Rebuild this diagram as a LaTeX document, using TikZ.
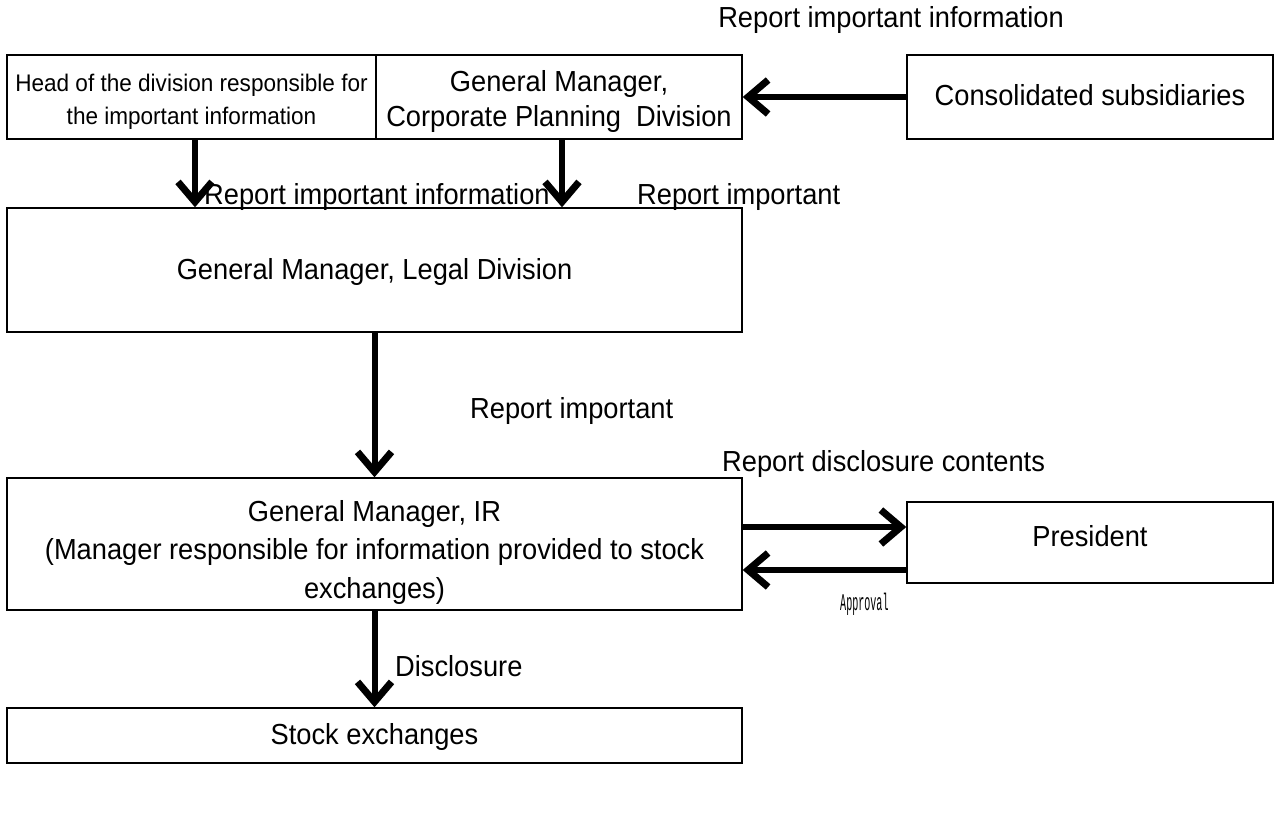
\documentclass[tikz,border=0pt]{standalone}
\usepackage{fontspec}
\setmainfont[FakeStretch=0.94]{Liberation Sans}
\newfontfamily\apfont[FakeStretch=0.42]{Liberation Mono}
\usetikzlibrary{arrows.meta,calc}
\newcommand\shtext[2]{\raisebox{-#1}[\height][\depth]{\begin{tabular}{@{}c@{}}#2\end{tabular}}}
\begin{document}
\begin{tikzpicture}[x=1pt,y=-1pt,
  box/.style={draw, line width=1.4pt, rectangle, inner sep=0pt, align=center,
    font=\fontsize{29}{36}\selectfont},
  lbl/.style={inner sep=0pt, anchor=west, font=\fontsize{29}{36}\selectfont},
  arr/.style={line width=6pt, -{Straight Barb[length=20pt,width=34pt,line width=7pt]}}]
\useasboundingbox (0,0) rectangle (1280,821);
\fill[white] (0,0) rectangle (1280,821);
% nodes
\node[box, minimum width=369pt, minimum height=84pt, font=\fontsize{24}{33}\selectfont] (head) at (191.5,97)
  {\shtext{4pt}{Head of the division responsible for\\the important information}};
\node[box, minimum width=366pt, minimum height=84pt, font=\fontsize{29}{35}\selectfont] (gm) at (559,97)
  {\shtext{5pt}{General Manager,\\Corporate Planning\ \ Division}};
\node[box, minimum width=366pt, minimum height=84pt] (cons) at (1090,97)
  {\shtext{1pt}{Consolidated subsidiaries}};
\node[box, minimum width=735pt, minimum height=124pt] (legal) at (374.5,270)
  {\shtext{2pt}{General Manager, Legal Division}};
\node[box, minimum width=735pt, minimum height=132pt, font=\fontsize{29}{38.5}\selectfont] (ir) at (374.5,544)
  {\shtext{8pt}{General Manager, IR\\(Manager responsible for information provided to stock\\exchanges)}};
\node[box, minimum width=366pt, minimum height=81pt] (pres) at (1090,542.5)
  {\shtext{-3pt}{President}};
\node[box, minimum width=735pt, minimum height=55pt] (stock) at (374.5,735.5)
  {\shtext{2pt}{Stock exchanges}};
% connectors
\draw[arr] (cons.west) -- (gm.east);
\draw[arr] ($(head.south)+(3.5,0)$) -- ($(legal.north -| head.south)+(3.5,0)$);
\draw[arr] ($(gm.south)+(3,0)$) -- ($(legal.north -| gm.south)+(3,0)$);
\draw[arr] (legal.south) -- (ir.north);
\draw[arr] (ir.south) -- (stock.north);
\coordinate (pr1) at ($(pres.west)+(0,-15.5)$);
\coordinate (pr2) at ($(pres.west)+(0,27.5)$);
\draw[arr] (ir.east |- pr1) -- (pr1);
\draw[arr] (pr2) -- (ir.east |- pr2);
% labels
\node[lbl, anchor=center] (l1) at (891,20) {Report important information};
\node[lbl] (l2) at (204,197) {Report important information};
\node[lbl] (l3) at (637,197) {Report important};
\node[lbl] (l4) at (470,411) {Report important};
\node[lbl] (l5) at (722,464) {Report disclosure contents};
\node[lbl, font=\apfont\fontsize{24}{26}\selectfont] (l6) at (840,604) {Approval};
\node[lbl] (l7) at (395,666) {Disclosure};
\end{tikzpicture}
\end{document}
